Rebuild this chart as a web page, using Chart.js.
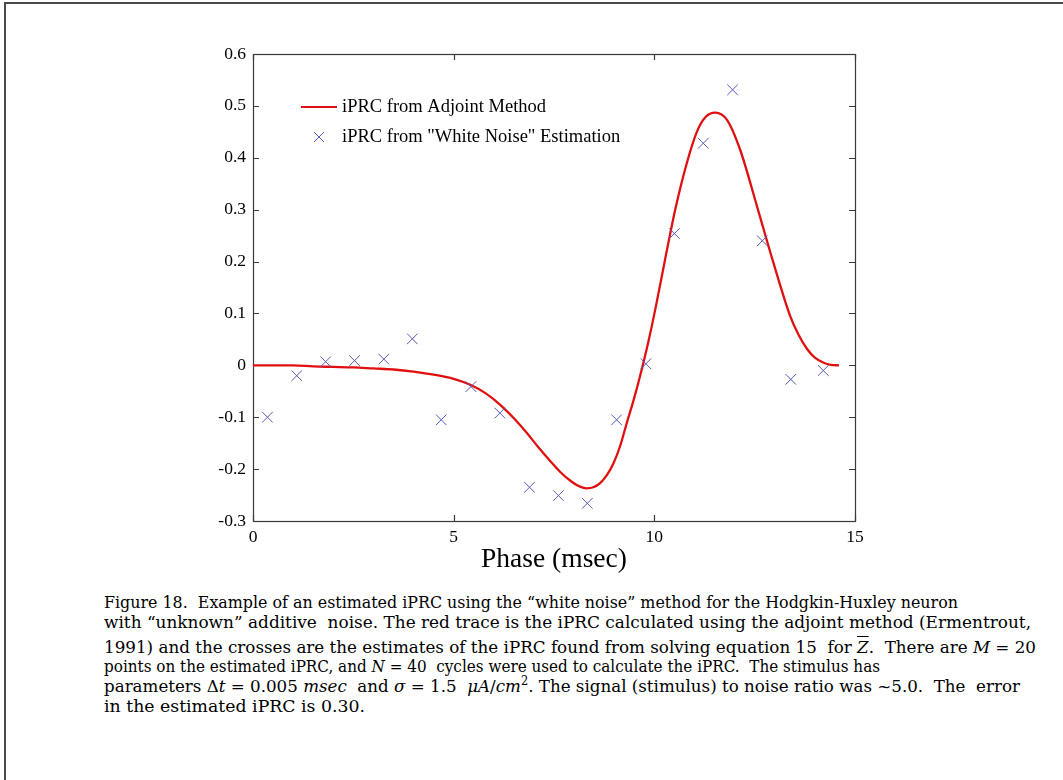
<!DOCTYPE html>
<html>
<head>
<meta charset="utf-8">
<script src="https://cdn.jsdelivr.net/npm/chart.js@4.4.1/dist/chart.umd.min.js"></script>
<style>
  html, body { margin: 0; padding: 0; background: #fff; }
  body { width: 1063px; height: 780px; position: relative; overflow: hidden; }
  #frame { position: absolute; left: 4px; top: 2px; width: 1080px; height: 800px; border-left: 2px solid #4a4a4a; border-top: 2px solid #4a4a4a; }
  #plot { position: absolute; left: 0; top: 0; width: 1063px; height: 590px; }
  .cap { position: absolute; left: 104px; font-family: "DejaVu Serif", serif; font-size: 17.5px; line-height: 20px; color: #000; white-space: pre; transform-origin: 0 50%; }
</style>
</head>
<body>
<div id="frame"></div>
<div id="plot"><canvas id="chart"></canvas></div>
<div id="caption"></div>
<script>
// red trace: iPRC from the adjoint method
var curvePhase = [0, 1.0, 1.5, 2.0, 2.5, 3.0, 3.5, 4.0, 4.5, 5.0, 5.4, 5.8, 6.16, 6.5, 6.82, 7.1, 7.4, 7.65,
  7.9, 8.1, 8.31, 8.48, 8.65, 8.82, 8.98, 9.15, 9.31, 9.48, 9.64, 9.85, 10.05, 10.27, 10.52, 10.81, 11.06, 11.27, 11.52, 11.81,
  12.14, 12.56, 12.97, 13.39, 13.6, 13.81, 14.0, 14.22, 14.4, 14.6];
var curveIPRC = [0, 0, -0.002, -0.003, -0.004, -0.006, -0.008, -0.012, -0.018, -0.026, -0.037, -0.054, -0.076, -0.102, -0.130, -0.157, -0.184, -0.205,
  -0.222, -0.232, -0.237, -0.235, -0.227, -0.211, -0.189, -0.155, -0.112, -0.068, -0.022, 0.045, 0.118, 0.205, 0.300, 0.390, 0.450, 0.478, 0.487, 0.473,
  0.415, 0.306, 0.197, 0.094, 0.058, 0.031, 0.015, 0.005, 0.001, 0];

// blue crosses: white noise estimates
var estPhase = [0.36, 1.09, 1.81, 2.53, 3.26, 3.97, 4.69, 5.43, 6.15, 6.89, 7.61, 8.33, 9.06, 9.79, 10.5, 11.22, 11.95, 12.69, 13.4, 14.21];
var estIPRC = [-0.100, -0.020, 0.007, 0.009, 0.012, 0.051, -0.105, -0.041, -0.092, -0.235, -0.251, -0.266, -0.105, 0.003, 0.254, 0.428, 0.531, 0.240, -0.027, -0.010];

var xTicks = [0, 5, 10, 15];
var xTickLabels = ['0', '5', '10', '15'];
var yTicks = [-0.3, -0.2, -0.1, 0, 0.1, 0.2, 0.3, 0.4, 0.5, 0.6];
var yTickLabels = ['-0.3', '-0.2', '-0.1', '0', '0.1', '0.2', '0.3', '0.4', '0.5', '0.6'];

var seriesNames = ['iPRC from Adjoint Method', 'iPRC from "White Noise" Estimation'];

function pts(xs, ys) { return xs.map(function(x, i) { return { x: x, y: ys[i] }; }); }

// box around the axes with inward ticks on all four sides
var boxTicks = {
  id: 'boxTicks',
  beforeDatasetsDraw: function(chart) {
    var a = chart.chartArea, c = chart.ctx, sx = chart.scales.x, sy = chart.scales.y;
    c.save();
    c.strokeStyle = '#3a3a3a';
    c.lineWidth = 1.2;
    c.strokeRect(a.left + 0.5, a.top + 0.5, a.right - a.left, a.bottom - a.top);
    c.beginPath();
    sx.ticks.forEach(function(t) {
      var p = Math.round(sx.getPixelForValue(t.value)) + 0.5;
      c.moveTo(p, a.bottom); c.lineTo(p, a.bottom - 6);
      c.moveTo(p, a.top); c.lineTo(p, a.top + 6);
    });
    sy.ticks.forEach(function(t) {
      var p = Math.round(sy.getPixelForValue(t.value)) + 0.5;
      c.moveTo(a.left, p); c.lineTo(a.left + 6, p);
      c.moveTo(a.right, p); c.lineTo(a.right - 6, p);
    });
    c.stroke();
    c.restore();
  }
};

// legend sits inside the axes, top-left
var innerLegend = {
  id: 'innerLegend',
  afterDraw: function(chart) {
    var a = chart.chartArea, c = chart.ctx, ds = chart.data.datasets;
    var x0 = a.left + 48, y0 = a.top + 53;
    c.save();
    c.font = '18.5px "Liberation Serif"';
    c.fillStyle = '#000';
    c.textBaseline = 'middle';
    c.strokeStyle = ds[0].borderColor;
    c.lineWidth = 2;
    c.beginPath(); c.moveTo(x0, y0); c.lineTo(x0 + 36, y0); c.stroke();
    c.fillText(ds[0].label, x0 + 41, y0);
    c.strokeStyle = ds[1].borderColor;
    c.lineWidth = 1;
    var cx = x0 + 18, cy = y0 + 30, r = 5;
    c.beginPath();
    c.moveTo(cx - r, cy - r); c.lineTo(cx + r, cy + r);
    c.moveTo(cx - r, cy + r); c.lineTo(cx + r, cy - r);
    c.stroke();
    c.fillText(ds[1].label, x0 + 41, cy);
    c.restore();
  }
};

new Chart(document.getElementById('chart'), {
  type: 'scatter',
  data: {
    datasets: [
      { label: seriesNames[0], data: pts(curvePhase, curveIPRC), showLine: true, borderColor: '#e01010', borderWidth: 2.3,
        pointRadius: 0, cubicInterpolationMode: 'monotone', order: 2 },
      { label: seriesNames[1], data: pts(estPhase, estIPRC), pointStyle: 'crossRot', pointRadius: 7.5, borderColor: '#5858b8',
        borderWidth: 1, backgroundColor: 'rgba(0,0,0,0)', order: 1 }
    ]
  },
  options: {
    responsive: true, maintainAspectRatio: false, animation: false,
    layout: { padding: { left: 0, top: 54, right: 208, bottom: 0 } },
    plugins: { legend: { display: false }, tooltip: { enabled: false } },
    scales: {
      x: {
        type: 'linear', min: 0, max: 15,
        afterBuildTicks: function(s) { s.ticks = xTicks.map(function(v) { return { value: v }; }); },
        afterFit: function(s) { s.height = 69; },
        grid: { display: false, drawTicks: false }, border: { display: false },
        ticks: { color: '#000', font: { family: 'Liberation Serif', size: 17.5 }, padding: 6, maxRotation: 0,
          callback: function(v, i) { return xTickLabels[i]; } },
        title: { display: true, text: 'Phase (msec)', color: '#000', font: { family: 'Liberation Serif', size: 27.5 },
          padding: { top: 0, bottom: 14 } }
      },
      y: {
        type: 'linear', min: -0.3, max: 0.6,
        afterBuildTicks: function(s) { s.ticks = yTicks.map(function(v) { return { value: v }; }); },
        afterFit: function(s) { s.width = 253; },
        grid: { display: false, drawTicks: false }, border: { display: false },
        ticks: { color: '#000', font: { family: 'Liberation Serif', size: 17.5 }, padding: 7,
          callback: function(v, i) { return yTickLabels[i]; } }
      }
    }
  },
  plugins: [boxTicks, innerLegend]
});

// caption, one line per row as in the figure
var capLines = [
  'Figure 18.  Example of an estimated iPRC using the \u201cwhite noise\u201d method for the Hodgkin-Huxley neuron',
  'with \u201cunknown\u201d additive  noise. The red trace is the iPRC calculated using the adjoint method (Ermentrout,',
  '1991) and the crosses are the estimates of the iPRC found from solving equation 15  for <i style="text-decoration:overline">Z</i>.  There are <i>M</i> = 20',
  'points on the estimated iPRC, and <i>N</i> = 40  cycles were used to calculate the iPRC.  The stimulus has',
  'parameters \u0394<i>t</i> = 0.005 <i>msec</i>  and <i>\u03c3</i> = 1.5  <i>\u03bcA</i>/<i>cm</i><sup style="font-size:12px;line-height:0">2</sup>. The signal (stimulus) to noise ratio was ~5.0.  The  error',
  'in the estimated iPRC is 0.30.'
];
var capMid = [602, 622, 647, 666, 686, 706];
var capEnd = [958, 1031, 1036, 880, 1020, 365];
var capBox = document.getElementById('caption');
capLines.forEach(function(html, i) {
  var d = document.createElement('div');
  d.className = 'cap';
  d.innerHTML = html;
  d.style.top = (capMid[i] - 10) + 'px';
  capBox.appendChild(d);
  var w = d.getBoundingClientRect().width;
  d.style.transform = 'scaleX(' + ((capEnd[i] - 104) / w).toFixed(4) + ')';
});
</script>
</body>
</html>
